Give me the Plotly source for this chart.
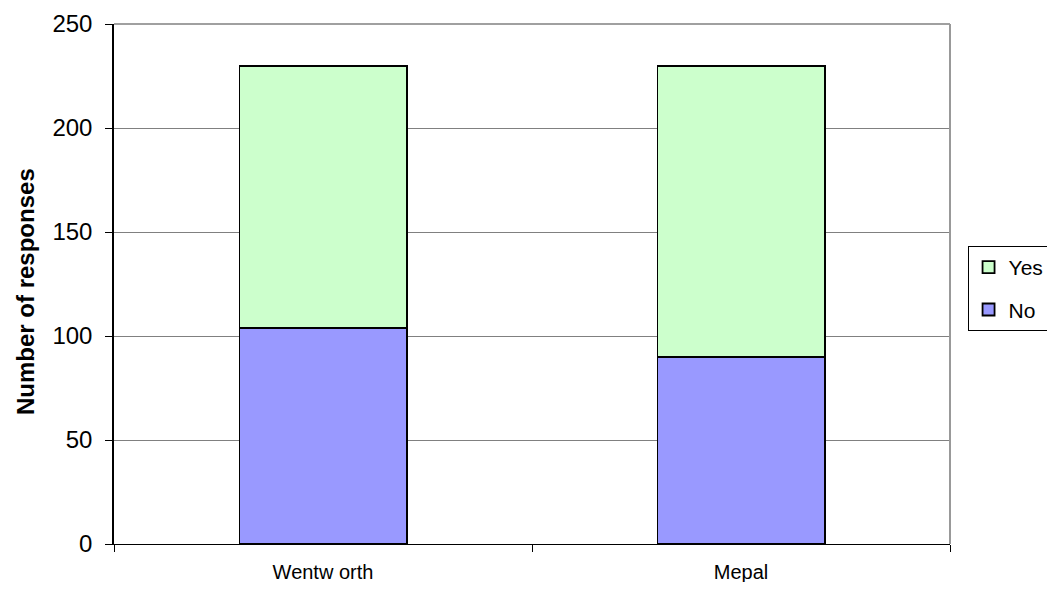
import plotly.graph_objects as go

categories = ["Wentw orth", "Mepal"]
no_values = [104, 90]
yes_values = [126, 140]
y_ticks = [0, 50, 100, 150, 200, 250]

fig = go.Figure()
fig.add_trace(go.Bar(
    name="No", x=categories, y=no_values, legendgroup="no", legendrank=2,
    marker=dict(color="#9999FF", line=dict(color="black", width=1.8)),
))
fig.add_trace(go.Bar(
    name="Yes", x=categories, y=yes_values, legendgroup="yes", legendrank=1,
    marker=dict(color="#CCFFCC", line=dict(color="black", width=1.8)),
))

fig.update_layout(
    barmode="stack",
    bargap=0.6,
    width=1039, height=574,
    margin=dict(l=106, r=97, t=16, b=38, autoexpand=False),
    paper_bgcolor="white",
    plot_bgcolor="white",
    font=dict(family="Liberation Sans, Arial, sans-serif", color="black"),
    showlegend=True,
    legend=dict(
        x=1.021, xanchor="left", y=0.573, yanchor="top",
        traceorder="grouped", tracegroupgap=12,
        bordercolor="black", borderwidth=1,
        font=dict(size=21),
        bgcolor="white",
        itemwidth=30,
    ),
    xaxis=dict(
        type="category",
        tickson="boundaries",
        ticks="outside", ticklen=7, tickcolor="black",
        showline=True, linecolor="black", linewidth=1,
        tickfont=dict(size=20),
        ticklabelstandoff=10,
        showgrid=False,
        automargin=False,
    ),
    yaxis=dict(
        range=[0, 250],
        tickvals=y_ticks,
        ticks="outside", ticklen=7, tickcolor="black",
        showline=True, linecolor="black", linewidth=1.5,
        showgrid=True, gridcolor="#808080", gridwidth=1,
        tickfont=dict(size=24),
        ticklabelstandoff=8,
        zeroline=False,
        automargin=False,
    ),
    annotations=[dict(
        text="<b>Number of responses</b>", textangle=-90,
        xref="paper", yref="paper", x=0, y=0.5,
        xanchor="center", yanchor="middle",
        xshift=-89, yshift=-8, showarrow=False,
        font=dict(size=24, color="black"),
    )],
)

# top and right border of plot area
fig.add_shape(type="line", xref="paper", yref="paper", x0=0, x1=1, y0=1, y1=1,
              line=dict(color="#808080", width=1.5))
fig.add_shape(type="line", xref="paper", yref="paper", x0=1, x1=1, y0=0, y1=1,
              line=dict(color="#999999", width=2))

fig.write_html("out.html")
